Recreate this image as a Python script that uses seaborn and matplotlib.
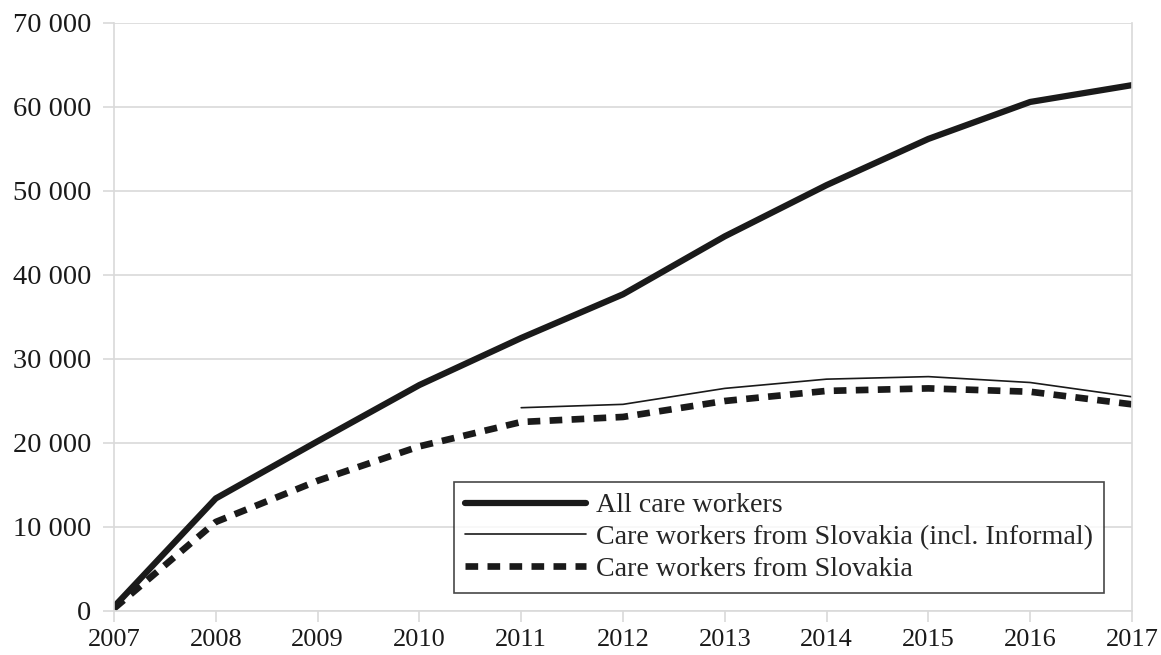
import numpy as np
import pandas as pd
import seaborn as sns
import matplotlib.pyplot as plt
from matplotlib.ticker import FuncFormatter

years = list(range(2007, 2018))
all_workers = [500, 13400, 20200, 26900, 32500, 37700, 44600, 50700, 56200, 60600, 62600]
years_incl = list(range(2011, 2018))
slovakia_incl = [24200, 24600, 26500, 27600, 27900, 27200, 25500]
slovakia = [300, 10600, 15500, 19600, 22500, 23100, 25000, 26200, 26500, 26100, 24600]

sns.set_theme(style="white")
plt.rcParams['font.family'] = ['Liberation Serif', 'DejaVu Serif']

fig = plt.figure(figsize=(11.61, 6.55), dpi=100)
ax = fig.add_axes([0.0982, 0.0672, 0.8768, 0.8977])

df_all = pd.DataFrame({"year": years, "value": all_workers})
df_incl = pd.DataFrame({"year": years_incl, "value": slovakia_incl})
df_sk = pd.DataFrame({"year": years, "value": slovakia})

sns.lineplot(data=df_all, x="year", y="value", ax=ax, color="#1a1a1a", lw=4.5,
             label="All care workers")
sns.lineplot(data=df_incl, x="year", y="value", ax=ax, color="#1a1a1a", lw=1.2,
             label="Care workers from Slovakia (incl. Informal)")
sns.lineplot(data=df_sk, x="year", y="value", ax=ax, color="#1a1a1a", lw=4.8,
             linestyle=(0, (1.9, 1.4)), label="Care workers from Slovakia")

ax.set_xlim(2007, 2017)
ax.set_ylim(0, 70000)
ax.set_xticks(years)
ax.set_yticks(range(0, 70001, 10000))
ax.yaxis.set_major_formatter(FuncFormatter(lambda v, p: f"{int(v):,}".replace(",", " ")))
ax.set_xlabel("")
ax.set_ylabel("")

ax.grid(axis="y", color="#d9d9d9", lw=1.2)
ax.set_axisbelow(True)
for side in ["left", "right", "bottom"]:
    ax.spines[side].set_color("#d9d9d9")
    ax.spines[side].set_linewidth(1.2)
ax.spines["top"].set_visible(False)
ax.tick_params(axis="y", which="major", length=8, width=1.2, color="#d9d9d9",
               labelsize=20.5, labelcolor="#1a1a1a", pad=8.5, left=True)
ax.tick_params(axis="x", which="major", length=8, width=1.2, color="#d9d9d9",
               labelsize=19, labelcolor="#1a1a1a", pad=5, bottom=True)

leg = ax.legend(loc="lower right", bbox_to_anchor=(0.9725, 0.03), fontsize=20.2,
                frameon=True, fancybox=False, handlelength=4.3, handletextpad=0.35,
                labelspacing=0.22, borderpad=0.4, borderaxespad=0)
leg.get_frame().set_edgecolor("#1a1a1a")
leg.get_frame().set_linewidth(1.2)

fig.savefig("out.png", dpi=100)
